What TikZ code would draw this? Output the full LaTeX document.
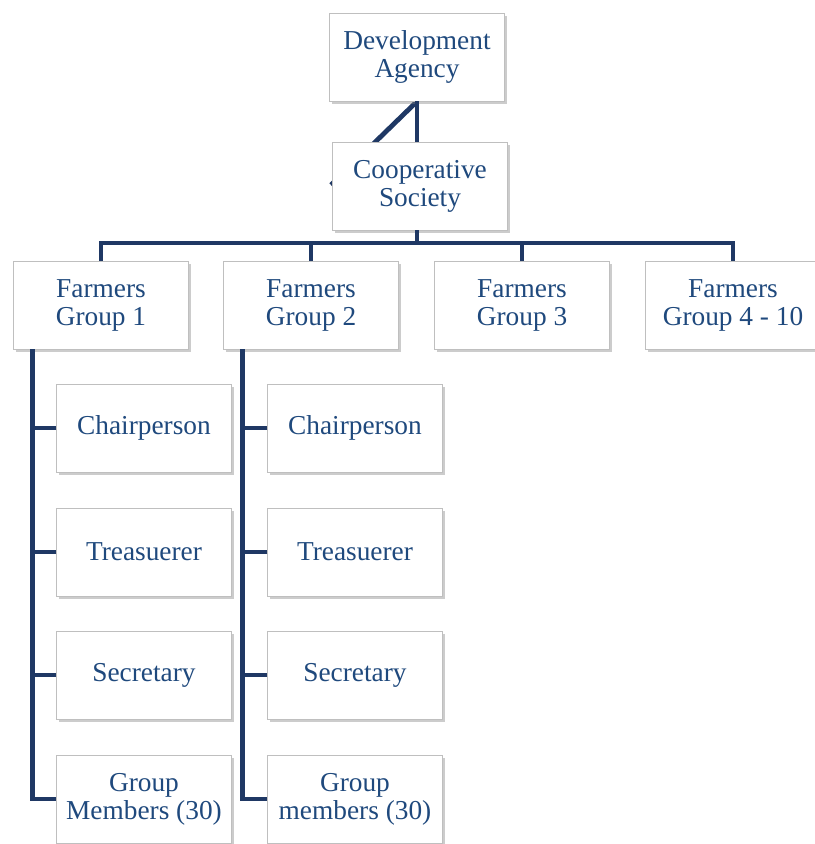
\documentclass[tikz,border=0pt]{standalone}
\usepackage{fontspec}
\setmainfont{Liberation Serif}
\usetikzlibrary{shadows, backgrounds}
\definecolor{linenavy}{RGB}{31, 56, 100}
\definecolor{textnavy}{RGB}{31, 73, 125}
\definecolor{boxgray}{RGB}{191, 191, 191}

\begin{document}
\begin{tikzpicture}[x=0.75pt, y=-0.75pt,
    box/.style={rectangle, draw=boxgray, line width=0.6pt, fill=white, text=textnavy, minimum width=131pt, minimum height=66pt, align=center, font=\fontsize{20.5}{21}\selectfont, drop shadow={opacity=0.4, shadow xshift=2pt, shadow yshift=-2pt}},
    link/.style={draw=linenavy, line width=3.6pt}
]
    \useasboundingbox (0,0) rectangle (815,844);

    \node[box] (dev) at (417, 57) {Development\\Agency};
    \node[box] (coop) at (420, 186) {Cooperative\\Society};

    \node[box] (fg1) at (101, 305) {Farmers\\Group 1};
    \node[box] (fg2) at (311, 305) {Farmers\\Group 2};
    \node[box] (fg3) at (522, 305) {Farmers\\Group 3};
    \node[box] (fg4) at (733, 305) {Farmers\\Group 4 - 10};

    \node[box] (ch1) at (144, 428) {Chairperson};
    \node[box] (tr1) at (144, 552) {Treasuerer};
    \node[box] (se1) at (144, 675) {Secretary};
    \node[box] (gm1) at (144, 799) {Group\\Members (30)};

    \node[box] (ch2) at (355, 428) {Chairperson};
    \node[box] (tr2) at (355, 552) {Treasuerer};
    \node[box] (se2) at (355, 675) {Secretary};
    \node[box] (gm2) at (355, 799) {Group\\members (30)};

    % agency to society
    \coordinate (asst) at (331, 185);
    \begin{scope}[on background layer]
        \draw[link] (dev.south) -- (asst);
    \end{scope}
    \draw[link] (dev.south) -- (dev.south |- coop.north);

    % society to the groups
    \coordinate (bar) at (417, 243);
    \draw[link] (dev.south |- coop.south) -- (bar);
    \draw[link] (fg1.north) |- (bar) -| (fg4.north);
    \draw[link] (fg2.north) -- (fg2.north |- bar);
    \draw[link] (fg3.north) -- (fg3.north |- bar);

    % group 1 officers
    \draw[link] ([xshift=14.25pt]fg1.south west) |- (gm1.west);
    \draw[link] (ch1.west) -- ++(-24, 0);
    \draw[link] (tr1.west) -- ++(-24, 0);
    \draw[link] (se1.west) -- ++(-24, 0);

    % group 2 officers
    \draw[link] ([xshift=14.25pt]fg2.south west) |- (gm2.west);
    \draw[link] (ch2.west) -- ++(-24, 0);
    \draw[link] (tr2.west) -- ++(-24, 0);
    \draw[link] (se2.west) -- ++(-24, 0);
\end{tikzpicture}
\end{document}
